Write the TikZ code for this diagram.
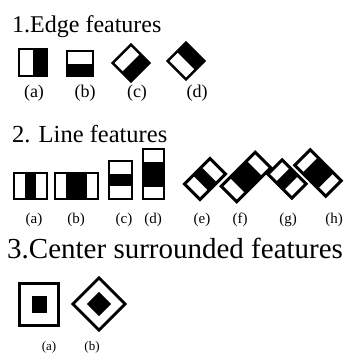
\documentclass[tikz,border=0pt]{standalone}
\usepackage{fontspec}
\setmainfont{Liberation Serif}
\tikzset{
  frame/.style={draw=black, line width=2.6pt},
  thickframe/.style={draw=black, line width=2.8pt},
  ttl/.style={anchor=base west, inner sep=0pt, font=\fontsize{24.5}{28}\selectfont},
  bigttl/.style={anchor=base west, inner sep=0pt, font=\fontsize{29}{33}\selectfont},
  elbl/.style={inner sep=0pt, font=\fontsize{18}{20}\selectfont},
  llbl/.style={inner sep=0pt, font=\fontsize{15}{17}\selectfont},
  clbl/.style={inner sep=0pt, font=\fontsize{13}{15}\selectfont},
}
% two-part edge feature: white top half, black bottom half, then rotated
\newcommand\edgefeat[5]{%
  \begin{scope}[shift={(#1,#2)}, rotate=#5]
    \fill[white] (-#3/2,-#4/2) rectangle (#3/2,#4/2);
    \fill[black] (-#3/2,0) rectangle (#3/2,#4/2);
    \draw[frame] (-#3/2,-#4/2) rectangle (#3/2,#4/2);
  \end{scope}}
% three-part line feature: white / black / white stripes, then rotated
\newcommand\linefeat[6]{%
  \begin{scope}[shift={(#1,#2)}, rotate=#5]
    \fill[white] (-#3/2,-#4/2) rectangle (#3/2,#4/2);
    \fill[black] (-#3/2,{-#4/2+#6*#4}) rectangle (#3/2,{#4/2-#6*#4});
    \draw[frame] (-#3/2,-#4/2) rectangle (#3/2,#4/2);
  \end{scope}}
\begin{document}
\begin{tikzpicture}[x=1pt,y=-1pt]
\useasboundingbox[fill=white] (0,0) rectangle (352,353);

% ---------- 1. Edge features ----------
\node[ttl, font=\fontsize{24}{28}\selectfont] (t1) at (12,33) {1.Edge features};
\edgefeat{33}{62.5}{27}{28}{90}
\edgefeat{80}{63.5}{26}{25}{0}
\edgefeat{131}{63}{26}{26}{45}
\edgefeat{186}{61}{26}{26}{135}
\node[elbl] (ea) at (34,93) {(a)};
\node[elbl] (eb) at (85,93) {(b)};
\node[elbl] (ec) at (137,93) {(c)};
\node[elbl] (ed) at (197,93) {(d)};

% ---------- 2. Line features ----------
\node[ttl] (t2) at (12,142) {2. Line features};
\linefeat{30.5}{186}{26}{33}{90}{0.3333}
\linefeat{76.5}{186}{26}{43}{90}{0.25}
\linefeat{120.5}{180}{23}{38}{0}{0.3333}
\linefeat{153.5}{174}{21}{50}{0}{0.25}
\begin{scope}[frame/.style={draw=black, line width=3pt}]
\linefeat{205}{179}{22}{36}{-45}{0.3333}
\linefeat{246}{177}{22}{48}{-45}{0.25}
\linefeat{287}{179}{20}{34}{45}{0.3333}
\linefeat{318}{173}{22}{44}{45}{0.25}
\end{scope}
\node[llbl] (la) at (34,220) {(a)};
\node[llbl] (lb) at (76,220) {(b)};
\node[llbl] (lc) at (124,220) {(c)};
\node[llbl] (ld) at (153,220) {(d)};
\node[llbl] (le) at (202,220) {(e)};
\node[llbl] (lf) at (240,220) {(f)};
\node[llbl] (lg) at (288,220) {(g)};
\node[llbl] (lh) at (334,220) {(h)};

% ---------- 3. Center surrounded features ----------
\node[bigttl] (t3) at (7,258) {3.Center surrounded features};
\draw[thickframe] (19.5,283.5) rectangle (58.5,325.5);
\fill[black] (32,296) rectangle (47,313);
\begin{scope}[shift={(99,304)}, rotate=45]
  \draw[thickframe] (-18.5,-18.5) rectangle (18.5,18.5);
  \fill[black] (-8.5,-8.5) rectangle (8.5,8.5);
\end{scope}
\node[clbl] (ca) at (49,347) {(a)};
\node[clbl] (cb) at (92,347) {(b)};
\end{tikzpicture}
\end{document}
